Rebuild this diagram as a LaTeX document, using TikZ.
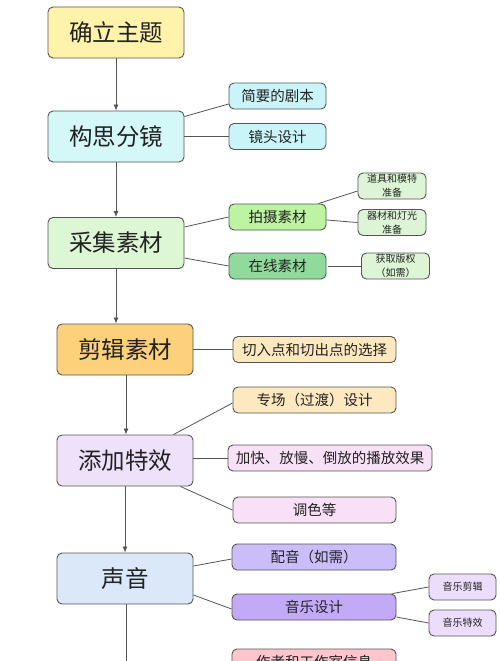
\documentclass[tikz,border=0pt]{standalone}
\usepackage{fontspec}
\newfontfamily\cjk{Noto Sans CJK SC}
\usetikzlibrary{arrows.meta}
\definecolor{bord}{HTML}{555555}
\definecolor{txt}{HTML}{222222}
\definecolor{cQueli}{HTML}{FFF3AC}
\definecolor{cGoushi}{HTML}{D4F7F7}
\definecolor{cCyan}{HTML}{C9F5F9}
\definecolor{cCaiji}{HTML}{DDF7D5}
\definecolor{cPaishe}{HTML}{BDF4A2}
\definecolor{cZaixian}{HTML}{90DB9C}
\definecolor{cSmallG}{HTML}{DDF5D6}
\definecolor{cJianji}{HTML}{FDD17C}
\definecolor{cPeach}{HTML}{FEE8C0}
\definecolor{cTianjia}{HTML}{EEE2FB}
\definecolor{cPink}{HTML}{F8E0F6}
\definecolor{cSheng}{HTML}{DAE8FA}
\definecolor{cPeiyin}{HTML}{CBBDF9}
\definecolor{cYinyue}{HTML}{C3AAF8}
\definecolor{cSmallP}{HTML}{EBDDFB}
\definecolor{cZuozhe}{HTML}{FFC5CD}
\tikzset{
  box/.style={draw=bord, line width=0.9pt, rounded corners=5pt, text=txt, inner sep=0pt, align=center},
  mainbox/.style={box, minimum width=136pt, minimum height=51pt, font=\cjk\fontsize{23.5}{28}\selectfont},
  subbox/.style={box, minimum width=97pt, minimum height=26pt, font=\cjk\fontsize{14.5}{17}\selectfont},
  smallbox/.style={box, minimum width=68pt, minimum height=26pt, font=\cjk\fontsize{10}{14}\selectfont},
  arr/.style={draw=bord, line width=0.8pt, -{Latex[length=6pt,width=5pt]}},
  link/.style={draw=bord, line width=0.8pt},
}
\begin{document}
\begin{tikzpicture}[x=1pt,y=-1pt]
\useasboundingbox (0,0) rectangle (500,661);
\fill[white] (0,0) rectangle (500,661);
\clip (0,0) rectangle (500,661);
% main column
\node[mainbox, fill=cQueli] (queli) at (116,32.5) {确立主题};
\node[mainbox, fill=cGoushi] (goushi) at (116,136.5) {构思分镜};
\node[mainbox, fill=cCaiji] (caiji) at (116,243) {采集素材};
\node[mainbox, fill=cJianji] (jianji) at (125,349.5) {剪辑素材};
\node[mainbox, fill=cTianjia] (tianjia) at (125,460.5) {添加特效};
\node[mainbox, fill=cSheng] (sheng) at (125,578.5) {声音};
% sub nodes
\node[subbox, fill=cCyan] (jianyao) at (277.5,96) {简要的剧本};
\node[subbox, fill=cCyan] (jingtou) at (277.5,136.5) {镜头设计};
\node[subbox, fill=cPaishe] (paishe) at (277.5,217) {拍摄素材};
\node[subbox, fill=cZaixian] (zaixian) at (277.5,266) {在线素材};
\node[smallbox, fill=cSmallG] (daoju) at (392,186) {道具和模特\\准备};
\node[smallbox, fill=cSmallG] (qicai) at (392,222.5) {器材和灯光\\准备};
\node[smallbox, fill=cSmallG] (huoqu) at (395.5,266) {获取版权\\（如需）};
\node[subbox, minimum width=163pt, fill=cPeach] (qieru) at (314.5,349.5) {切入点和切出点的选择};
\node[subbox, minimum width=163pt, fill=cPeach] (zhuan) at (314.5,400) {专场（过渡）设计};
\node[subbox, minimum width=204pt, fill=cPink] (jiakuai) at (330,458) {加快、放慢、倒放的播放效果};
\node[subbox, minimum width=163pt, fill=cPink] (tiaose) at (314.5,510) {调色等};
\node[subbox, minimum width=164pt, fill=cPeiyin] (peiyin) at (314,557) {配音（如需）};
\node[subbox, minimum width=164pt, fill=cYinyue] (yinyue) at (314,607) {音乐设计};
\node[smallbox, minimum width=67pt, fill=cSmallP] (yyjian) at (462.5,587) {音乐剪辑};
\node[smallbox, minimum width=67pt, fill=cSmallP] (yyte) at (462.5,623) {音乐特效};
\node[subbox, minimum width=164pt, fill=cZuozhe] (zuozhe) at (314,662) {作者和工作室信息};
\coordinate (bottomend) at (126,668);
% main arrows
\draw[arr] (queli.south) -- (goushi.north);
\draw[arr] (goushi.south) -- (caiji.north);
\draw[arr] (caiji.south) -- (caiji.south |- jianji.north);
\draw[arr] ([xshift=1pt]jianji.south) -- ([xshift=1pt]jianji.south |- tianjia.north);
\draw[arr] (tianjia.south) -- (sheng.north);
\draw[arr] ([xshift=1pt]sheng.south) -- (bottomend);
% links
\draw[link] ([yshift=20pt]goushi.east) -- ([yshift=-8pt]jianyao.west);
\draw[link] (goushi.east) -- (jingtou.west);
\draw[link] ([yshift=16pt]caiji.east) -- (paishe.west);
\draw[link] ([yshift=-15pt]caiji.east) -- (zaixian.west);
\draw[link] ([xshift=-8pt]paishe.north east) -- ([yshift=-5pt]daoju.west);
\draw[link] ([yshift=-3pt]paishe.east) -- (qicai.west);
\draw[link] ([xshift=2pt]zaixian.east) -- (huoqu.west);
\draw[link] (jianji.east) -- (qieru.west);
\draw[link] ([xshift=-20pt]tianjia.north east) -- ([yshift=-3pt]zhuan.west);
\draw[link] ([yshift=2.5pt]tianjia.east) -- (jiakuai.west);
\draw[link] ([xshift=-13pt]tianjia.south east) -- (tiaose.west);
\draw[link] ([yshift=12.5pt]sheng.east) -- ([yshift=-2pt]peiyin.west);
\draw[link] ([yshift=-16.5pt]sheng.east) -- ([yshift=-2pt]yinyue.west);
\draw[link] ([xshift=-4pt]yinyue.north east) -- (yyjian.west);
\draw[link] ([yshift=-10pt]yinyue.east) -- (yyte.west);
\end{tikzpicture}
\end{document}
